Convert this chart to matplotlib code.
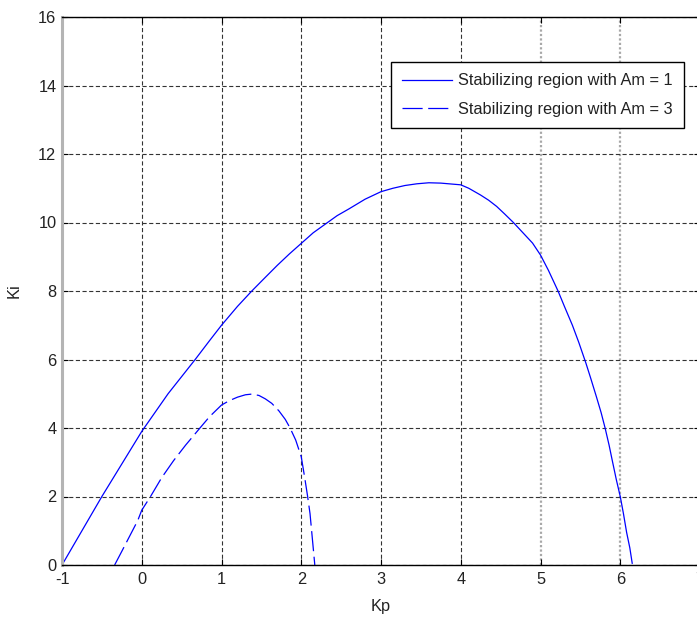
import matplotlib
matplotlib.use("Agg")
import matplotlib.pyplot as plt
from matplotlib import font_manager

# ---- data ----
kp_am1 = [-1.0, -0.75, -0.5, -0.25, 0.0, 0.33, 0.5, 0.67, 0.85, 1.0, 1.2, 1.38, 1.55,
          1.7, 1.85, 2.0, 2.15, 2.33, 2.45, 2.6, 2.8, 3.0, 3.15, 3.3, 3.45, 3.6,
          3.75, 3.9, 4.0, 4.1, 4.25, 4.35, 4.45, 4.55, 4.66, 4.8, 4.9, 5.0, 5.1,
          5.22, 5.3, 5.4, 5.48, 5.57, 5.63, 5.7, 5.76, 5.81, 5.86, 5.9, 5.95, 6.0,
          6.04, 6.08, 6.12, 6.15]
ki_am1 = [0.0, 1.0, 2.0, 2.95, 3.9, 5.0, 5.5, 6.0, 6.55, 7.0, 7.55, 8.0, 8.4,
          8.75, 9.08, 9.39, 9.7, 10.0, 10.2, 10.4, 10.68, 10.9, 11.0, 11.08, 11.13, 11.16,
          11.15, 11.12, 11.1, 11.0, 10.8, 10.65, 10.47, 10.25, 10.0, 9.65, 9.4, 9.05, 8.6,
          8.0, 7.55, 7.0, 6.5, 5.89, 5.45, 4.92, 4.45, 4.0, 3.5, 3.05, 2.5, 2.0,
          1.5, 0.95, 0.5, 0.05]

kp_am3 = [-0.34, -0.25, -0.15, -0.05, 0.0, 0.11, 0.25, 0.4, 0.55, 0.73, 0.85, 1.0,
          1.1, 1.2, 1.3, 1.38, 1.47, 1.55, 1.63, 1.72, 1.8, 1.86, 1.93, 2.0, 2.04,
          2.08, 2.11, 2.13, 2.15, 2.17]
ki_am3 = [0.0, 0.4, 0.85, 1.3, 1.6, 2.0, 2.55, 3.05, 3.5, 4.0, 4.33, 4.67,
          4.8, 4.9, 4.97, 4.99, 4.95, 4.85, 4.72, 4.5, 4.25, 4.0, 3.65, 3.16, 2.6,
          2.0, 1.5, 1.0, 0.5, 0.0]

x_ticks = [-1, 0, 1, 2, 3, 4, 5, 6, 7]
y_ticks = [0, 2, 4, 6, 8, 10, 12, 14, 16]
label_am1 = "Stabilizing region with Am = 1"
label_am3 = "Stabilizing region with Am = 3"

# ---- style ----
names = {f.name for f in font_manager.fontManager.ttflist}
fam = [n for n in ["Liberation Sans Narrow", "Liberation Sans", "DejaVu Sans"] if n in names]
plt.rcParams['font.family'] = fam
plt.rcParams['lines.scale_dashes'] = False
FS = 11.8

W, H = 697, 619
fig = plt.figure(figsize=(W / 100, H / 100), dpi=100)
left, right, top, bottom = 62, 700, 17, 565
ax = fig.add_axes([left / W, 1 - bottom / H, (right - left) / W, (bottom - top) / H])

blue = '#0000ff'
ax.plot(kp_am1, ki_am1, color=blue, lw=0.9, label=label_am1)
ax.plot(kp_am3, ki_am3, color=blue, lw=0.9, dashes=(14.5, 4.0), label=label_am3)

ax.set_xlim(-1, 7)
ax.set_ylim(0, 16)
ax.set_xticks(x_ticks)
ax.set_yticks(y_ticks)
ax.set_xticklabels([str(v) for v in x_ticks], fontsize=FS)
ax.set_yticklabels([str(v) for v in y_ticks], fontsize=FS)
ax.tick_params(direction='in', length=4, width=0.8, top=True, right=True,
               colors='black', labelcolor='#222222')
ax.tick_params(axis='x', pad=5)
ax.tick_params(axis='y', pad=4)

ax.grid(True, color='#333333', lw=0.8, linestyle=(0, (3.0, 1.8)))
for i, gl in enumerate(ax.get_xgridlines()):
    if x_ticks[i] in (5, 6):
        gl.set_color('#a8a8a8')
        gl.set_linewidth(1.6)
        gl.set_linestyle((0, (1.6, 1.6)))
ax.set_axisbelow(True)

for s in ['top', 'bottom', 'right']:
    ax.spines[s].set_color('black')
    ax.spines[s].set_linewidth(1.0)
ax.spines['left'].set_color('#b4b4b4')
ax.spines['left'].set_linewidth(2.2)

ax.set_xlabel("Kp", fontsize=FS, color='#222222', labelpad=9)
ax.set_ylabel("Ki", fontsize=FS, color='#222222', labelpad=12)

leg = ax.legend(loc='upper left', bbox_to_anchor=(391 / W, 1 - 62 / H),
                bbox_transform=fig.transFigure, borderaxespad=0,
                fontsize=FS, frameon=True, fancybox=False, shadow=False,
                handlelength=3.0, handletextpad=0.4, labelspacing=0.8,
                borderpad=0.7)
fr = leg.get_frame()
fr.set_edgecolor('black')
fr.set_linewidth(1.0)
fr.set_facecolor('white')
fr.set_alpha(1)
for t in leg.get_texts():
    t.set_color('#222222')

fig.savefig("out.png", dpi=100)
